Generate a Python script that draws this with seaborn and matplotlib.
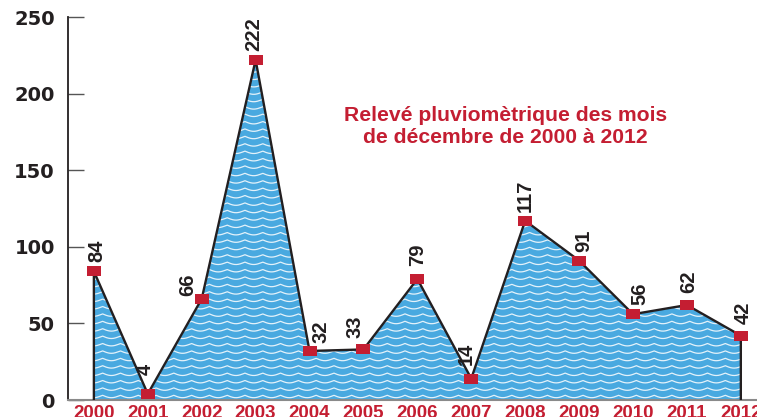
import numpy as np
import pandas as pd
import seaborn as sns
import matplotlib.pyplot as plt
from matplotlib.path import Path
from matplotlib.ticker import MultipleLocator

annees = [2000, 2001, 2002, 2003, 2004, 2005, 2006, 2007, 2008, 2009, 2010, 2011, 2012]
pluie = [84, 4, 66, 222, 32, 33, 79, 14, 117, 91, 56, 62, 42]
yticks = [0, 50, 100, 150, 200, 250]
titre = "Relevé pluviomètrique des mois\nde décembre de 2000 à 2012"

# décalage des étiquettes (en points) pour éviter la ligne
decal = [(2, 7), (-1.5, 13.5), (-10, 2), (-1.5, 6.5), (8, 6), (-6, 8), (0, 9),
         (-3.5, 9.5), (0, 6), (3, 6.5), (5, 6.5), (1.5, 8.5), (1.5, 8.5)]

rouge = "#c41e32"
bleu = "#49a9e0"
noir = "#231f20"

sns.set_style("white")
plt.rcParams['font.family'] = ['Liberation Sans', 'DejaVu Sans']

df = pd.DataFrame({"annee": annees, "pluie": pluie})

fig = plt.figure(figsize=(7.57, 4.17), dpi=100)
ax = fig.add_axes([68 / 757, 17 / 417, 689 / 757, 383 / 417])

# zone bleue
poly = ax.fill_between(df["annee"], df["pluie"], 0, color=bleu, lw=0, zorder=1)

# vagues blanches (décor) découpées dans la zone
xs = np.linspace(1999.5, 2012.5, 4000)
for niveau in np.arange(1.5, 250, 4.83):
    ys = niveau + 1.6 * (1 - np.abs(np.sin(np.pi * (xs - 1999.5) / 0.33)))
    l, = ax.plot(xs, ys, color="white", lw=0.9, alpha=0.85, zorder=2)
    l.set_clip_path(poly.get_paths()[0], ax.transData)

# contour avec bords verticaux
bord_x = [annees[0]] + annees + [annees[-1]]
bord_y = [0] + pluie + [0]
ax.plot(bord_x, bord_y, color=noir, lw=1.7, zorder=3)

rect = Path([(-1, -0.72), (1, -0.72), (1, 0.72), (-1, 0.72), (-1, -0.72)])
sns.lineplot(data=df, x="annee", y="pluie", ax=ax, lw=0, marker=rect,
             markersize=10, color=rouge, markeredgewidth=0, zorder=4)

for a, v, d in zip(annees, pluie, decal):
    ax.annotate(str(v), (a, v), xytext=d, textcoords="offset points",
                rotation=90, ha="center", va="bottom", fontsize=14.5,
                fontweight="bold", color=noir,
                family=['Liberation Sans Narrow', 'Liberation Sans'])

ax.text(2007.64, 178.5, titre, ha="center", va="center", fontsize=15.2,
        fontweight="bold", color=rouge, linespacing=1.2)

ax.set_xlim(1999.52, 2012.3)
ax.set_ylim(0, 250)
ax.set_xticks(annees)
ax.set_xticklabels([str(a) for a in annees])
ax.set_yticks(yticks)
ax.xaxis.set_minor_locator(MultipleLocator(1, offset=0.5))
ax.set_xlabel("")
ax.set_ylabel("")

ax.tick_params(axis="x", which="major", length=0, pad=3.5, labelsize=13.5,
               labelcolor=rouge)
ax.tick_params(axis="x", which="minor", direction="in", length=6, width=1.3,
               color=noir, bottom=True)
ax.tick_params(axis="y", direction="in", length=11.5, width=1, color="#555555",
               pad=9.5, labelsize=14, labelcolor=noir, left=True)
for lab in ax.get_xticklabels():
    lab.set_fontweight("bold")
for lab in ax.get_yticklabels():
    lab.set_fontweight("bold")
    lab.set_family("DejaVu Sans")

for s in ["top", "right"]:
    ax.spines[s].set_visible(False)
ax.spines["left"].set_color(noir)
ax.spines["left"].set_linewidth(1.3)
ax.spines["bottom"].set_color("#8a8a8a")
ax.spines["bottom"].set_linewidth(1.5)
ax.patch.set_alpha(0)

fig.savefig("out.png", dpi=100)
